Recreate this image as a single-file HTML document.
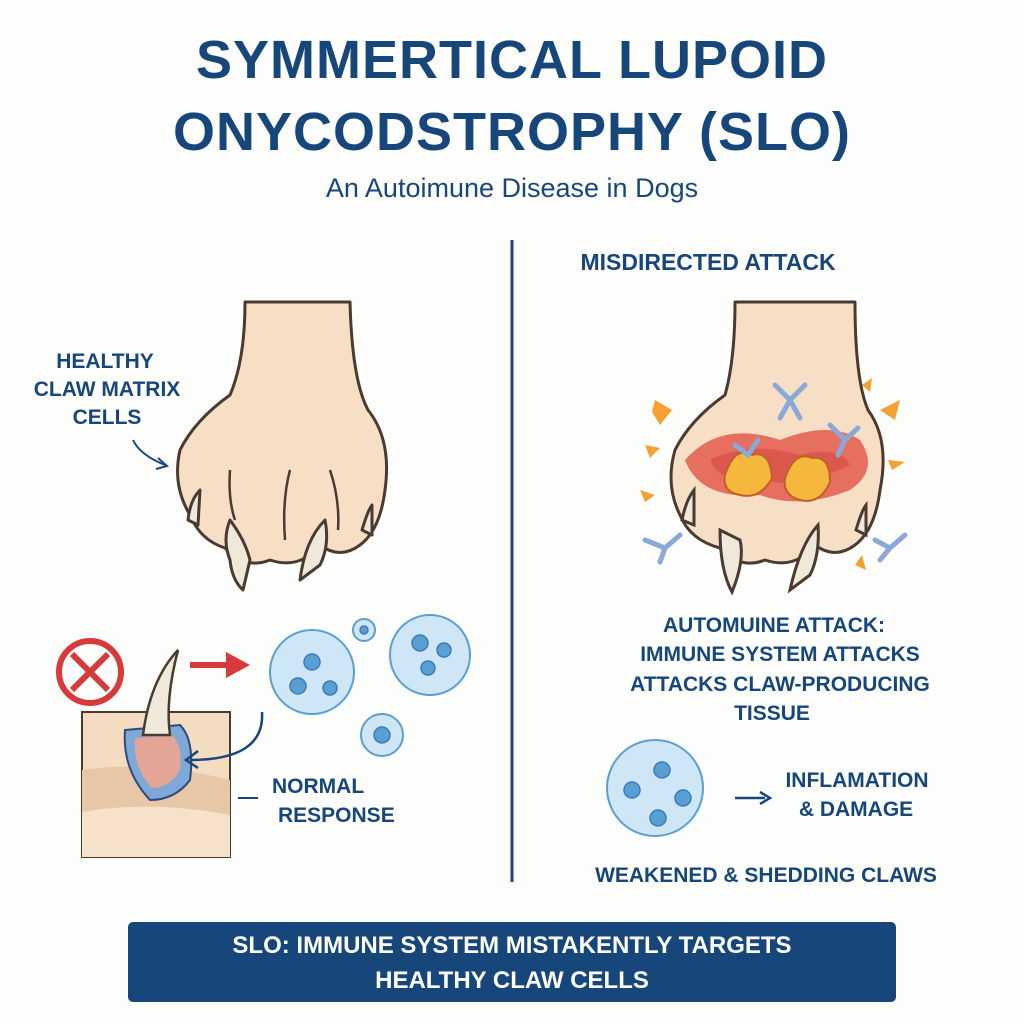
<!DOCTYPE html>
<html><head><meta charset="utf-8"><style>
body{margin:0;background:#fdfdfc;}
svg{display:block}
text{font-family:"Liberation Sans",sans-serif;}
</style></head><body>
<svg width="1024" height="1024" viewBox="0 0 1024 1024" xmlns="http://www.w3.org/2000/svg">
<rect width="1024" height="1024" fill="#fdfdfc"/>
<g fill="#17477a" text-anchor="middle" font-weight="bold">
<text x="512" y="78" font-size="54" letter-spacing="1">SYMMERTICAL LUPOID</text>
<text x="512" y="150" font-size="54" letter-spacing="1">ONYCODSTROPHY (SLO)</text>
</g>
<text x="512" y="197" font-size="27" fill="#17477a" text-anchor="middle">An Autoimune Disease in Dogs</text>
<line x1="512" y1="240" x2="512" y2="882" stroke="#17477a" stroke-width="3"/>

<!-- left paw -->
<g stroke="#4a3a30" stroke-width="3" fill="#f6dfc4" stroke-linejoin="round">
<path d="M245 302 L350 302 Q352 380 368 410 Q392 440 385 490 Q380 530 360 545 Q340 560 320 545 Q300 570 270 560 Q245 570 225 548 Q200 540 190 515 Q172 485 180 450 Q195 420 230 395 Q245 360 245 302Z"/>
<path d="M230 560 Q222 540 230 520 Q245 540 250 560 L243 590 Q232 580 230 560Z" fill="#efe9da"/>
<path d="M300 580 Q305 540 325 520 Q330 545 320 565Z" fill="#efe9da"/>
<path d="M188 520 Q190 500 200 490 L198 525Z" fill="#efe9da"/>
<path d="M362 530 Q368 510 372 505 L372 535Z" fill="#efe9da"/>
</g>
<g stroke="#4a3a30" stroke-width="2.5" fill="none">
<path d="M230 470 Q228 500 235 520"/><path d="M290 470 Q282 500 285 540"/><path d="M330 470 Q340 500 338 530"/>
</g>
<g fill="#17477a" font-weight="bold" font-size="21" text-anchor="middle">
<text x="105" y="368">HEALTHY</text><text x="107" y="396">CLAW MATRIX</text><text x="107" y="424">CELLS</text>
</g>
<path d="M133 440 Q140 455 165 465" stroke="#17477a" stroke-width="2" fill="none"/>
<path d="M158 458 L167 466 L156 469" stroke="#17477a" stroke-width="2" fill="none"/>

<!-- no sign -->
<circle cx="90" cy="672" r="31" fill="none" stroke="#d63a3a" stroke-width="6"/>
<path d="M72 654 L108 690 M108 654 L72 690" stroke="#d63a3a" stroke-width="6"/>
<path d="M190 665 L230 665" stroke="#d63a3a" stroke-width="6"/><path d="M226 652 L250 665 L226 678Z" fill="#d63a3a"/>
<!-- tissue block -->
<rect x="82" y="712" width="148" height="145" fill="#f3dcc0" stroke="#4a3a30" stroke-width="2"/>
<path d="M82 770 Q150 760 230 780 L230 857 L82 857Z" fill="#e7c7a5"/>
<path d="M82 812 Q150 800 230 815 L230 857 L82 857Z" fill="#f6e2cb"/>
<path d="M125 730 Q122 770 150 800 Q175 800 190 780 Q195 740 180 725Z" fill="#7fa8d6" stroke="#2a4a80" stroke-width="2"/>
<path d="M135 738 Q133 768 152 788 Q170 788 180 770 Q183 745 172 735Z" fill="#e3a596"/>
<path d="M143 735 Q150 680 178 650 Q165 700 170 735Z" fill="#efe9da" stroke="#4a3a30" stroke-width="2.5"/>
<path d="M262 712 Q265 760 190 760" stroke="#17477a" stroke-width="2.5" fill="none"/>
<path d="M198 751 L186 760 L198 768" stroke="#17477a" stroke-width="2.5" fill="none"/>
<line x1="238" y1="798" x2="258" y2="798" stroke="#17477a" stroke-width="2"/>
<g fill="#17477a" font-weight="bold" font-size="21"><text x="272" y="793">NORMAL</text><text x="278" y="822">RESPONSE</text></g>
<!-- cells left -->
<g fill="#cfe6f7" stroke="#5a9fd4" stroke-width="2">
<circle cx="312" cy="672" r="42"/><circle cx="430" cy="655" r="40"/><circle cx="382" cy="735" r="21"/><circle cx="364" cy="630" r="11"/>
</g>
<g fill="#5a9fd4" stroke="#3b7cb8" stroke-width="1.5">
<circle cx="312" cy="662" r="8"/><circle cx="298" cy="686" r="8"/><circle cx="330" cy="688" r="7"/>
<circle cx="420" cy="643" r="8"/><circle cx="444" cy="650" r="7"/><circle cx="428" cy="668" r="7"/>
<circle cx="382" cy="735" r="8"/><circle cx="364" cy="630" r="4"/>
</g>

<!-- right -->
<text x="708" y="270" font-size="23" font-weight="bold" fill="#17477a" text-anchor="middle">MISDIRECTED ATTACK</text>
<g stroke="#4a3a30" stroke-width="3" fill="#f6dfc4" stroke-linejoin="round">
<path d="M735 302 L855 302 Q855 380 868 410 Q890 440 880 490 Q875 530 855 545 Q835 560 815 545 Q795 570 765 560 Q740 570 720 548 Q690 540 680 515 Q665 485 675 450 Q690 420 725 395 Q735 360 735 302Z"/>
</g>
<path d="M685 460 Q720 420 780 440 Q830 420 860 440 Q880 470 850 490 Q800 510 760 495 Q700 500 685 460Z" fill="#e04a3e" opacity="0.75"/>
<path d="M710 460 Q750 440 800 455 Q840 445 850 465 Q800 490 760 480 Q720 485 710 460Z" fill="#d9524a" opacity="0.8"/>
<g fill="#f5b83c" stroke="#c0602a" stroke-width="2">
<path d="M725 475 Q735 445 752 455 Q770 450 772 478 Q760 500 740 495 Q722 492 725 475Z"/>
<path d="M785 478 Q795 450 812 458 Q830 455 830 482 Q820 505 800 500 Q782 495 785 478Z"/>
</g>
<g stroke="#4a3a30" stroke-width="3" fill="#efe9da">
<path d="M720 530 Q720 570 732 592 Q745 560 740 540Z"/>
<path d="M790 590 Q800 545 818 525 Q820 555 810 575Z"/>
<path d="M682 520 Q686 500 694 490 L694 525Z"/>
<path d="M856 530 Q862 510 866 505 L866 535Z"/>
</g>
<g stroke="#8aa8d8" stroke-width="5" stroke-linecap="round" fill="none">
<path d="M775 385 L790 400 L805 385 M790 400 L780 418 M790 400 L800 418"/>
<path d="M645 540 L665 548 M665 548 L680 535 M665 548 L660 562"/>
<path d="M875 540 L890 548 L905 535 M890 548 L880 560"/>
<path d="M830 425 L845 440 L858 428 M845 440 L838 455"/>
<path d="M735 445 L748 455 L758 440"/>
</g>
<g fill="#f5a030">
<path d="M655 400 L672 410 L660 425 L652 412Z"/><path d="M880 410 L900 400 L895 420Z"/><path d="M645 445 L660 448 L650 458Z"/>
<path d="M888 460 L905 462 L892 470Z"/><path d="M862 385 L872 378 L870 392Z"/><path d="M640 490 L655 495 L645 502Z"/><path d="M855 565 L862 555 L866 570Z"/>
</g>
<g fill="#17477a" font-weight="bold" font-size="21" text-anchor="middle">
<text x="774" y="632">AUTOMUINE ATTACK:</text><text x="780" y="661">IMMUNE SYSTEM ATTACKS</text><text x="780" y="691">ATTACKS CLAW-PRODUCING</text><text x="772" y="720">TISSUE</text>
<text x="857" y="787">INFLAMATION</text><text x="856" y="816">&amp; DAMAGE</text>
<text x="766" y="882">WEAKENED &amp; SHEDDING CLAWS</text>
</g>
<circle cx="655" cy="788" r="48" fill="#cfe6f7" stroke="#5a9fd4" stroke-width="2"/>
<g fill="#5a9fd4" stroke="#3b7cb8" stroke-width="1.5">
<circle cx="662" cy="770" r="8"/><circle cx="632" cy="790" r="8"/><circle cx="683" cy="798" r="8"/><circle cx="658" cy="818" r="8"/>
</g>
<path d="M735 798 L765 798" stroke="#17477a" stroke-width="2.5"/><path d="M760 792 L770 798 L760 804" stroke="#17477a" stroke-width="2.5" fill="none"/>

<rect x="128" y="922" width="768" height="80" rx="5" fill="#17477a"/>
<g fill="#fff" font-weight="bold" font-size="24" text-anchor="middle">
<text x="512" y="953">SLO: IMMUNE SYSTEM MISTAKENTLY TARGETS</text><text x="512" y="988">HEALTHY CLAW CELLS</text>
</g>
</svg>
</body></html>
